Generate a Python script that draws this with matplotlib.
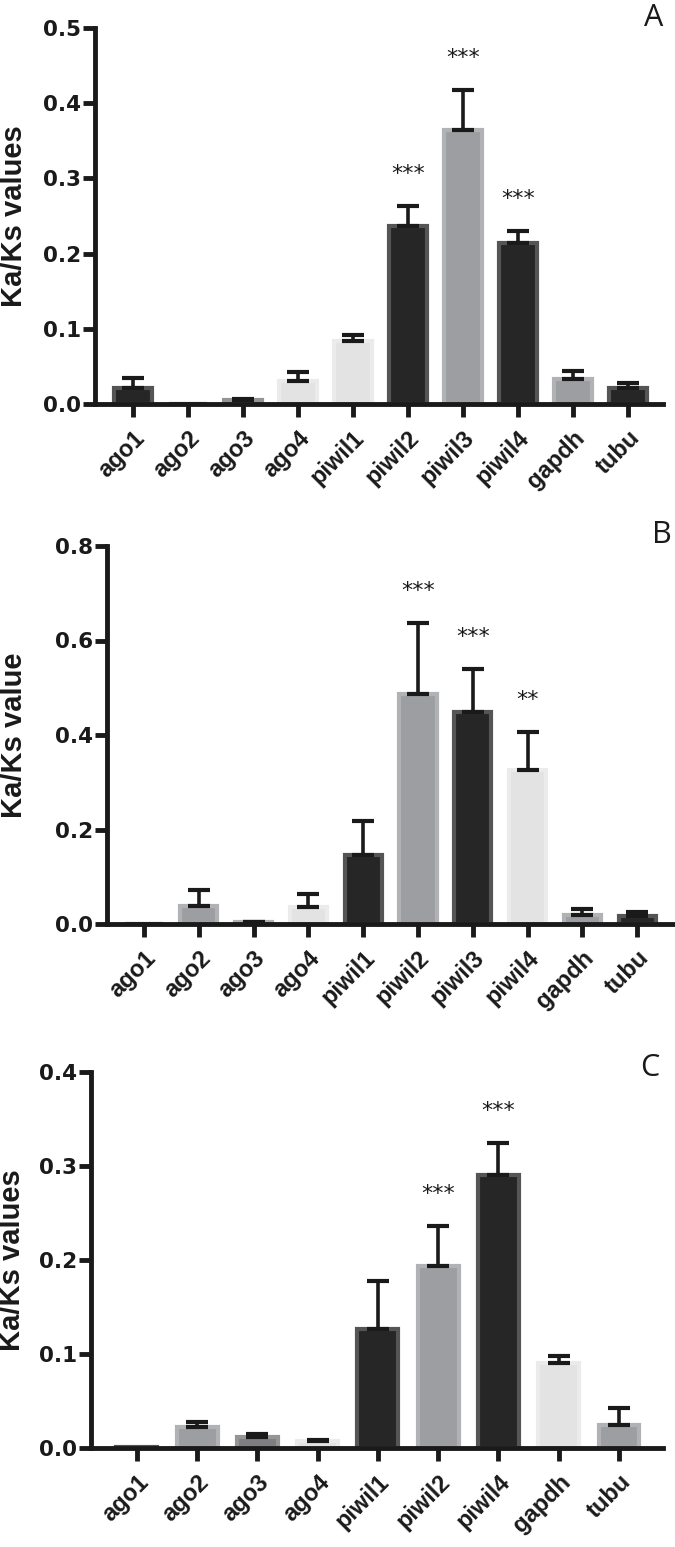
import matplotlib
matplotlib.use("Agg")
import matplotlib.pyplot as plt
import numpy as np

# ---------------- data ----------------
genes_A = ["ago1", "ago2", "ago3", "ago4", "piwil1", "piwil2", "piwil3", "piwil4", "gapdh", "tubu"]
vals_A = [0.021, 0.0, 0.005, 0.030, 0.084, 0.237, 0.364, 0.214, 0.033, 0.021]
errs_A = [0.014, 0.0, 0.001, 0.012, 0.008, 0.026, 0.054, 0.016, 0.011, 0.007]
stars_A = ["", "", "", "", "", "***", "***", "***", "", ""]
shade_A = ["k", "k", "m", "l", "l", "k", "g", "k", "g", "k"]

genes_B = ["ago1", "ago2", "ago3", "ago4", "piwil1", "piwil2", "piwil3", "piwil4", "gapdh", "tubu"]
vals_B = [0.0, 0.039, 0.004, 0.035, 0.145, 0.487, 0.448, 0.325, 0.020, 0.016]
errs_B = [0.0, 0.034, 0.001, 0.029, 0.072, 0.150, 0.092, 0.081, 0.012, 0.009]
stars_B = ["", "", "", "", "", "***", "***", "**", "", ""]
shade_B = ["k", "g", "g", "l", "k", "g", "k", "l", "g", "k"]

genes_C = ["ago1", "ago2", "ago3", "ago4", "piwil1", "piwil2", "piwil4", "gapdh", "tubu"]
vals_C = [0.001, 0.022, 0.0115, 0.007, 0.127, 0.194, 0.290, 0.090, 0.024]
errs_C = [0.0, 0.006, 0.003, 0.002, 0.051, 0.042, 0.034, 0.008, 0.019]
stars_C = ["", "", "", "", "", "***", "***", "", ""]
shade_C = ["k", "g", "m", "l", "k", "g", "k", "l", "g"]

ylabels = ["Ka/Ks values", "Ka/Ks value", "Ka/Ks values"]
yticks_all = [[0.0, 0.1, 0.2, 0.3, 0.4, 0.5],
              [0.0, 0.2, 0.4, 0.6, 0.8],
              [0.0, 0.1, 0.2, 0.3, 0.4]]
letters = ["A", "B", "C"]

# ---------------- style ----------------
FILL = {"k": "#262626", "g": "#9d9ea2", "l": "#e3e3e3", "m": "#7e7e81"}
EDGE = {"k": "#555555", "g": "#b1b2b5", "l": "#ebebeb", "m": "#959598"}
INK = "#1a1a1a"

W, H = 675, 1547
fig = plt.figure(figsize=(W / 100, H / 100), dpi=100)


def px_axes(left, right, top, bottom):
    return fig.add_axes([left / W, 1 - bottom / H, (right - left) / W, (bottom - top) / H])


panels = [
    dict(box=(95, 663, 28, 404), genes=genes_A, vals=vals_A, errs=errs_A, stars=stars_A,
         shade=shade_A, xlim=(-0.69, 9.64), letter_xy=(654, 18), ylab_x=28),
    dict(box=(107, 675, 546, 924), genes=genes_B, vals=vals_B, errs=errs_B, stars=stars_B,
         shade=shade_B, xlim=(-0.675, 9.69), letter_xy=(662, 535), ylab_x=28),
    dict(box=(91, 663, 1072, 1448), genes=genes_C, vals=vals_C, errs=errs_C, stars=stars_C,
         shade=shade_C, xlim=(-0.76, 8.73), letter_xy=(650, 1068), ylab_x=26),
]

for i, p in enumerate(panels):
    ax = px_axes(*p["box"])
    x = np.arange(len(p["genes"]))
    vals = np.array(p["vals"])
    errs = np.array(p["errs"])
    ymax = yticks_all[i][-1]

    ax.bar(x, vals, width=0.68,
           color=[FILL[s] for s in p["shade"]],
           edgecolor=[EDGE[s] for s in p["shade"]],
           linewidth=3.0, zorder=2)
    m = errs > 0
    ax.errorbar(x[m], vals[m], yerr=[np.zeros(m.sum()), errs[m]], fmt="none",
                ecolor=INK, elinewidth=2.6, capsize=8, capthick=3.0, zorder=3)

    for xi, v, e, s in zip(x, vals, errs, p["stars"]):
        if s:
            ax.text(xi, v + e + 0.085 * ymax, s, ha="center", va="center",
                    fontsize=16, color=INK, family="DejaVu Sans")

    ax.set_xlim(*p["xlim"])
    ax.set_ylim(0, ymax)
    ax.set_yticks(yticks_all[i])
    ax.set_yticklabels([f"{t:.1f}" for t in yticks_all[i]], fontsize=15.5,
                       family="DejaVu Sans", weight="bold")
    ax.set_xticks(x)
    ax.set_xticklabels(p["genes"], rotation=45, ha="right", va="top",
                       rotation_mode="anchor", fontsize=17,
                       family=["Liberation Sans", "DejaVu Sans"], weight="bold")
    for sp in ["top", "right"]:
        ax.spines[sp].set_visible(False)
    for sp in ["left", "bottom"]:
        ax.spines[sp].set_linewidth(3.5)
        ax.spines[sp].set_color(INK)
        ax.spines[sp].set_zorder(4)
    ax.tick_params(axis="both", direction="out", length=9, width=3.5, color=INK,
                   labelcolor=INK)
    ax.tick_params(axis="x", pad=7)
    ax.tick_params(axis="y", pad=1)

    ax.set_ylabel(ylabels[i], fontsize=21, family=["Liberation Sans", "DejaVu Sans"],
                  weight="bold", color=INK)
    left, right, top, bottom = p["box"]
    ax.yaxis.set_label_coords((p["ylab_x"] - left) / (right - left), 0.5)

    lx, ly = p["letter_xy"]
    fig.text(lx / W, 1 - ly / H, letters[i], ha="center", va="center",
             fontsize=22, family=["Open Sans", "DejaVu Sans"], color=INK)

fig.savefig("out.png", dpi=100)
